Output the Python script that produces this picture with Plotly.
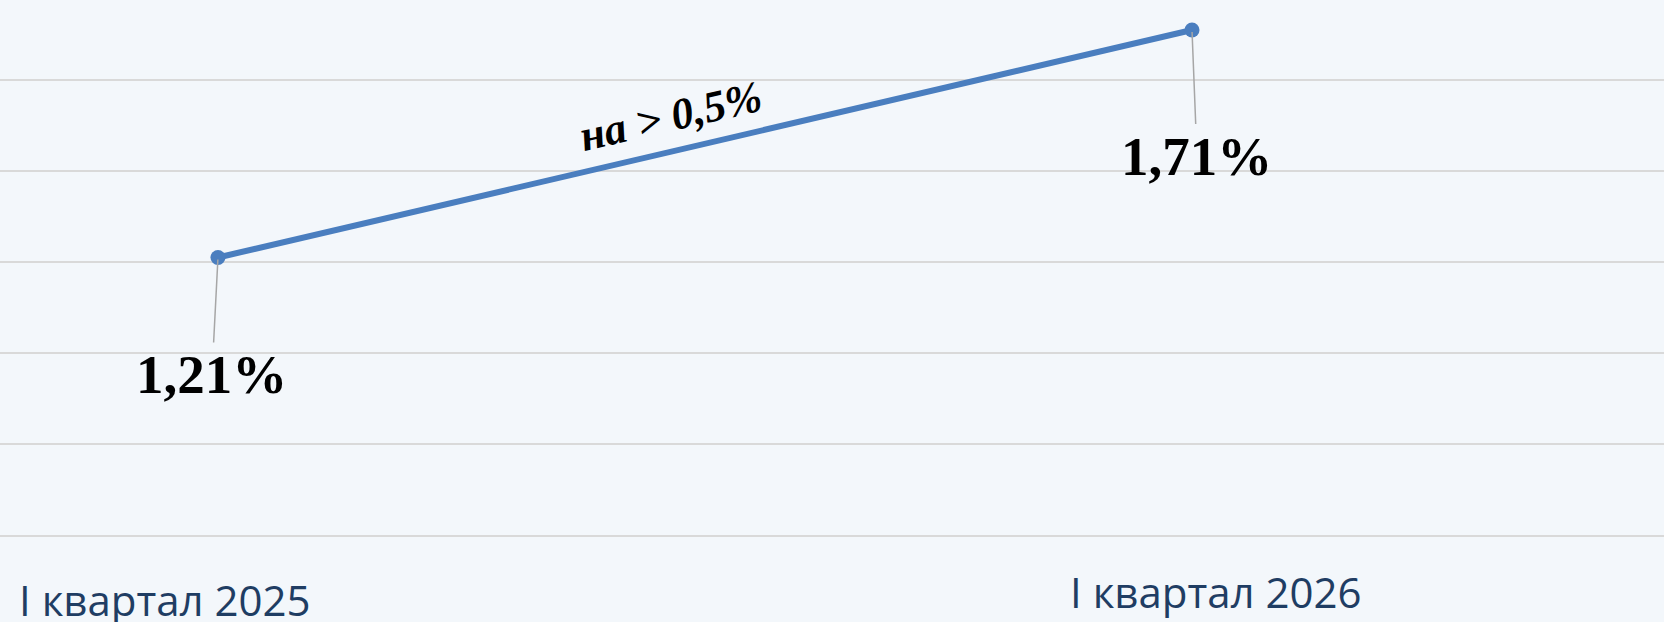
import plotly.graph_objects as go

categories = ["I квартал 2025", "I квартал 2026"]
values = [1.21, 1.71]
value_labels = ["1,21%", "1,71%"]
change_label = "на > 0,5%"

fig = go.Figure()

fig.add_trace(go.Scatter(
    x=categories, y=values, mode="lines+markers",
    line=dict(color="#4A7EBF", width=6),
    marker=dict(color="#4A7EBF", size=15),
    cliponaxis=False, hoverinfo="skip", showlegend=False,
))

# data labels with leader lines
offsets = [(-6, 117), (5, 126)]
for c, v, lab, (ax, ay) in zip(categories, values, value_labels, offsets):
    fig.add_annotation(
        x=c, y=v, xref="x", yref="y", text="<b>" + lab + "</b>",
        showarrow=True, arrowhead=0, arrowwidth=1.5, arrowcolor="#A6A6A6",
        ax=ax, ay=ay, standoff=2,
        font=dict(family="Liberation Serif", size=55, color="#000000"),
    )

# category labels (positioned individually)
cat_shift = [(-53, -64), (24, -56)]
for c, (xs, ys) in zip(categories, cat_shift):
    fig.add_annotation(
        x=c, y=0, xref="x", yref="paper", text=c, showarrow=False,
        xshift=xs, yshift=ys, yanchor="middle", xanchor="center",
        font=dict(family="Open Sans", size=42, color="#1F3D63"),
    )

# rotated change label
fig.add_annotation(
    x=0.4027, y=0.783, xref="paper", yref="paper",
    xanchor="center", yanchor="middle",
    text="<b><i>" + change_label + "</i></b>", showarrow=False, textangle=-13,
    font=dict(family="Liberation Serif", size=44, color="#000000"),
)

fig.update_layout(
    width=1664, height=622,
    margin=dict(l=0, r=0, t=0, b=87),
    paper_bgcolor="#F3F7FB", plot_bgcolor="rgba(0,0,0,0)",
    xaxis=dict(type="category", range=[-0.2238, 1.4846], showticklabels=False,
               showgrid=False, zeroline=False, showline=True,
               linecolor="#D9D9D9", linewidth=2, ticks=""),
    yaxis=dict(range=[0.6, 1.776], tick0=0.6, dtick=0.2, showticklabels=False,
               showgrid=True, gridcolor="#D9D9D9", gridwidth=2, zeroline=False),
)

fig.write_html(
    "out.html",
    config={"displayModeBar": False},
    post_script="document.body.style.margin='0';document.body.style.overflow='hidden';",
)
